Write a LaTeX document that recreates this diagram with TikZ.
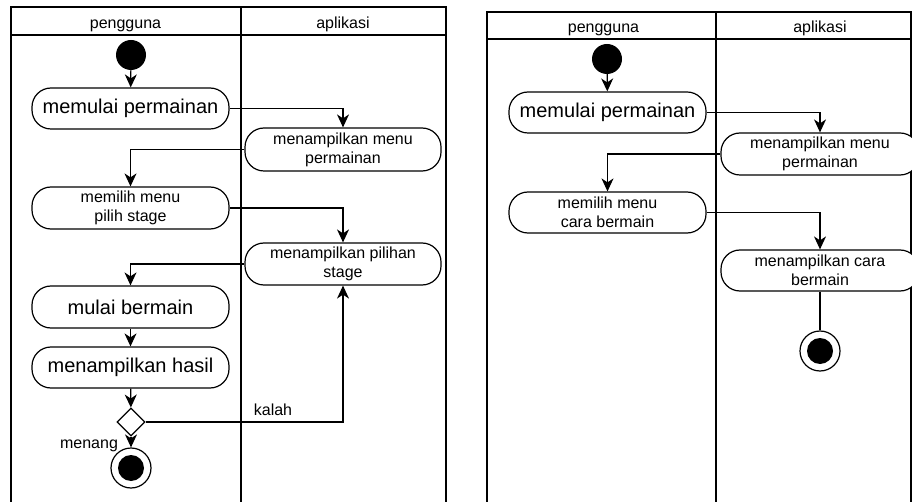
\documentclass[tikz,border=0pt]{standalone}
\usepackage{fontspec}
\setmainfont{Liberation Sans}
\usetikzlibrary{arrows.meta,shapes.geometric}
\tikzset{
  lane/.style={line width=1.2pt},
  act/.style={draw,line width=1.2pt,rounded corners=19pt,minimum width=197pt,inner sep=0pt,align=center,fill=white},
  big/.style={font=\fontsize{20}{22}\selectfont},
  small/.style={font=\fontsize{16}{19}\selectfont},
  hdr/.style={font=\fontsize{16}{19}\selectfont,anchor=base,inner sep=0pt},
  startdot/.style={circle,fill=black,minimum size=30pt,inner sep=0pt},
  enddot/.style={circle,draw,line width=1.2pt,fill=white,minimum size=40pt,inner sep=0pt,
     path picture={\fill[black] (path picture bounding box.center) circle (13pt);}},
  choice/.style={diamond,draw,line width=1.2pt,fill=white,minimum width=28pt,minimum height=28pt,inner sep=0pt},
  flow/.style={line width=1.2pt,-{Stealth[length=13pt,width=12pt,inset=4pt]}},
  plain/.style={line width=1.2pt},
  lbl/.style={font=\fontsize{16}{19}\selectfont,inner sep=0pt,anchor=base}
}
\begin{document}
\begin{tikzpicture}[x=1pt,y=-1pt]
\useasboundingbox (0,0) rectangle (912,502);
\clip (0,0) rectangle (912,502);
\fill[white] (0,0) rectangle (912,502);
% left frame
\draw[lane] (11,510) -- (11,7) -- (446,7) -- (446,510);
\draw[lane] (11,35) -- (446,35);
\draw[lane] (241,7) -- (241,510);
\node[hdr] (h1) at (125.5,28.5) {pengguna};
\node[hdr] (h2) at (343,28.5) {aplikasi};
% right frame
\draw[lane] (487,510) -- (487,12) -- (911,12) -- (911,510);
\draw[lane] (487,39) -- (911,39);
\draw[lane] (716,12) -- (716,510);
\node[hdr] (h3) at (603.5,32.5) {pengguna};
\node[hdr] (h4) at (820,32.5) {aplikasi};

% left diagram
\node[startdot] (s1) at (131,55) {};
\node[act,big,minimum height=41pt] (a1) at (130.5,108.5) {memulai permainan};
\node[act,small,minimum height=43pt,minimum width=196pt] (b1) at (343,149.5) {menampilkan menu\\permainan};
\node[act,small,minimum height=42pt] (a2) at (130.5,208) {memilih menu\\pilih stage};
\node[act,small,minimum height=42pt,minimum width=196pt] (b2) at (343,264) {menampilkan pilihan\\stage};
\node[act,big,minimum height=42pt] (a3) at (130.5,307) {mulai bermain};
\node[act,big,minimum height=41pt] (a4) at (130.5,367.5) {menampilkan hasil};
\node[choice] (d1) at (131,422) {};
\node[enddot] (e1) at (131,468) {};

\draw[flow] (s1) -- (a1);
\draw[flow] (a1.east) -| (b1.north);
\draw[flow] (b1.west) -| (a2.north);
\draw[flow] (a2.east) -| (b2.north);
\draw[flow] (b2.west) -| (a3.north);
\draw[flow] (a3) -- (a4);
\draw[flow] (a4) -- (d1);
\draw[flow] (d1.east) -| (b2.south);
\draw[flow] (d1) -- (e1);
\node[lbl] (k1) at (273,415) {kalah};
\node[lbl] (m1) at (89,448) {menang};

% right diagram
\node[startdot] (s2) at (607,59) {};
\node[act,big,minimum height=41pt] (c1) at (607.5,112.5) {memulai permainan};
\node[act,small,minimum height=42pt,minimum width=198pt] (c2) at (820,154) {menampilkan menu\\permainan};
\node[act,small,minimum height=41pt] (c3) at (607.5,212.5) {memilih menu\\cara bermain};
\node[act,small,minimum height=41pt,minimum width=198pt] (c4) at (820,270.5) {menampilkan cara\\bermain};
\node[enddot] (e2) at (820,351) {};

\draw[flow] (s2) -- (c1);
\draw[flow] (c1.east) -| (c2.north);
\draw[flow] (c2.west) -| (c3.north);
\draw[flow] (c3.east) -| (c4.north);
\draw[plain] (c4) -- (e2);
\end{tikzpicture}
\end{document}
